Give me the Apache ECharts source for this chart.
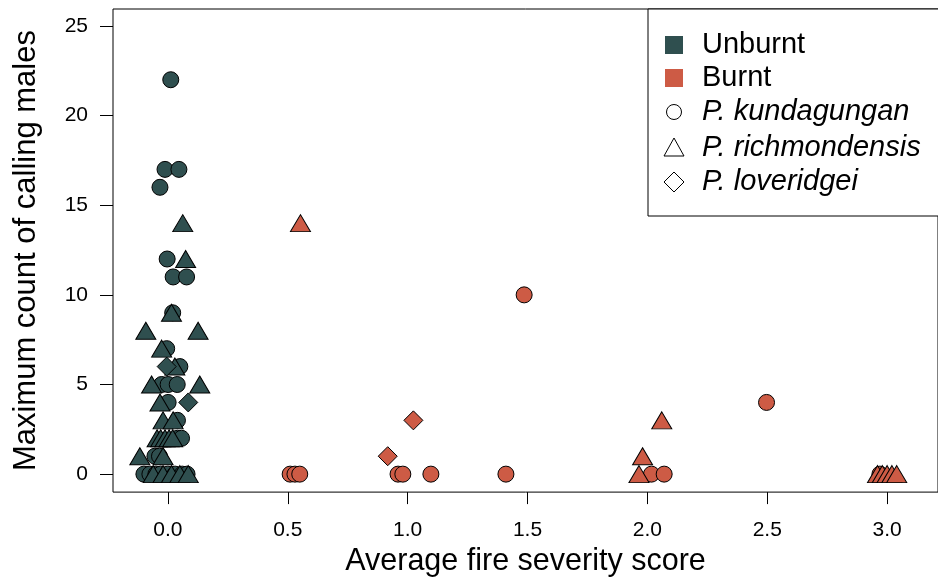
<!DOCTYPE html>
<html>
<head>
	<meta charset="utf-8" />
	<script src="https://cdn.jsdelivr.net/npm/echarts@6.0.0/dist/echarts.min.js"></script>
	<style>
		html, body { margin: 0; padding: 0; background: #fff; }
	</style>
</head>
<body>
	<div id="main" style="width: 938px;height:582px;"></div>

	<script type="text/javascript">
		// data: [fire severity score, max count of calling males]
		var unburntKundagungan = [
			[0.012, 22], [-0.012, 17], [0.046, 17], [-0.033, 16], [-0.003, 12], [0.022, 11], [0.078, 11],
			[0.02, 9], [-0.005, 7], [0.05, 6], [-0.026, 5], [0.001, 5], [0.039, 5], [0.001, 4],
			[0.04, 3], [0.04, 2], [0.057, 2], [-0.054, 1], [-0.035, 1],
			[-0.1, 0], [-0.075, 0], [-0.05, 0], [-0.03, 0], [0.0, 0], [0.03, 0], [0.06, 0], [0.08, 0]
		];
		var unburntRichmondensis = [
			[0.062, 14], [0.074, 12], [0.015, 9], [-0.092, 8], [0.126, 8], [-0.026, 7], [0.029, 6],
			[-0.068, 5], [0.133, 5], [-0.033, 4], [-0.02, 3], [0.022, 3],
			[-0.045, 2], [-0.03, 2], [-0.012, 2], [0.005, 2], [0.02, 2], [-0.117, 1], [-0.02, 1],
			[-0.061, 0], [-0.02, 0], [0.015, 0], [0.05, 0], [0.085, 0]
		];
		var unburntLoveridgei = [[-0.005, 6], [0.085, 4]];

		var burntKundagungan = [
			[0.51, 0], [0.53, 0], [0.55, 0], [0.96, 0], [0.98, 0], [1.097, 0], [1.41, 0], [1.486, 10],
			[2.017, 0], [2.07, 0], [2.497, 4], [2.97, 0]
		];
		var burntRichmondensis = [
			[0.553, 14], [1.965, 0], [1.98, 1], [2.06, 3], [2.96, 0], [2.98, 0], [3.0, 0], [3.02, 0], [3.04, 0]
		];
		var burntLoveridgei = [[0.917, 1], [1.024, 3]];

		var xTicks = [0, 0.5, 1, 1.5, 2, 2.5, 3];
		var yTicks = [0, 5, 10, 15, 20, 25];

		var colUnburnt = '#2F4F4F';
		var colBurnt = '#CD5B45';
		var font = "'Liberation Sans', Arial, Helvetica, sans-serif";

		function pts(name, data, color, symbol, size) {
			return {
				name: name,
				type: 'scatter',
				data: data,
				symbol: symbol,
				symbolSize: size,
				itemStyle: { color: color, borderColor: '#000', borderWidth: 1, opacity: 1 },
				emphasis: { disabled: true },
				silent: true
			};
		}

		var myChart = echarts.init(document.getElementById('main'));

		var option = {
			animation: false,
			textStyle: { fontFamily: font },
			grid: { left: 113, top: 9, width: 827, height: 484, show: true, borderColor: '#000', borderWidth: 1 },
			xAxis: {
				type: 'value',
				min: -0.2289, max: 3.2122,
				name: 'Average fire severity score',
				nameLocation: 'middle',
				nameGap: 53,
				nameTextStyle: { fontSize: 30.5, color: '#000', fontFamily: font },
				axisLine: { show: false, onZero: false },
				splitLine: { show: false },
				axisTick: { show: true, inside: false, length: 12, customValues: xTicks, lineStyle: { color: '#000' } },
				axisLabel: {
					customValues: xTicks, margin: 28, fontSize: 21, color: '#000', fontFamily: font,
					formatter: function (v) { return v.toFixed(1); }
				}
			},
			yAxis: {
				type: 'value',
				min: -1.002, max: 25.946,
				name: 'Maximum count of calling males',
				nameLocation: 'middle',
				nameGap: 71,
				nameTextStyle: { fontSize: 31, color: '#000', fontFamily: font },
				axisLine: { show: false, onZero: false },
				splitLine: { show: false },
				axisTick: { show: true, inside: false, length: 13, customValues: yTicks, lineStyle: { color: '#000' } },
				axisLabel: { customValues: yTicks, margin: 25, fontSize: 21, color: '#000', fontFamily: font }
			},
			series: [
				pts('Unburnt kundagungan', unburntKundagungan, colUnburnt, 'circle', 16),
				pts('Unburnt richmondensis', unburntRichmondensis, colUnburnt, 'triangle', [20, 17]),
				pts('Unburnt loveridgei', unburntLoveridgei, colUnburnt, 'diamond', [19, 19]),
				pts('Burnt kundagungan', burntKundagungan, colBurnt, 'circle', 16),
				pts('Burnt richmondensis', burntRichmondensis, colBurnt, 'triangle', [20, 17]),
				pts('Burnt loveridgei', burntLoveridgei, colBurnt, 'diamond', [19, 19])
			],
			// legend box drawn by hand (filled squares for site type, hollow shapes for species)
			graphic: [
				{ type: 'rect', shape: { x: 648, y: 9, width: 300, height: 207 }, style: { fill: '#fff', stroke: '#000', lineWidth: 1 }, z: 10 },
				{ type: 'rect', shape: { x: 665, y: 36, width: 18, height: 18 }, style: { fill: colUnburnt }, z: 11 },
				{ type: 'rect', shape: { x: 665, y: 69, width: 18, height: 18 }, style: { fill: colBurnt }, z: 11 },
				{ type: 'circle', shape: { cx: 674, cy: 112, r: 7.5 }, style: { fill: 'none', stroke: '#000', lineWidth: 1 }, z: 11 },
				{ type: 'polygon', shape: { points: [[674, 138], [684, 156], [664, 156]] }, style: { fill: 'none', stroke: '#000', lineWidth: 1 }, z: 11 },
				{ type: 'polygon', shape: { points: [[674, 172], [684, 182], [674, 192], [664, 182]] }, style: { fill: 'none', stroke: '#000', lineWidth: 1 }, z: 11 },
				{ type: 'text', x: 702, y: 45, style: { text: 'Unburnt', font: '29px ' + font, fill: '#000', textVerticalAlign: 'middle' }, z: 11 },
				{ type: 'text', x: 702, y: 78, style: { text: 'Burnt', font: '29px ' + font, fill: '#000', textVerticalAlign: 'middle' }, z: 11 },
				{ type: 'text', x: 702, y: 112, style: { text: 'P. kundagungan', font: 'italic 29px ' + font, fill: '#000', textVerticalAlign: 'middle' }, z: 11 },
				{ type: 'text', x: 702, y: 148, style: { text: 'P. richmondensis', font: 'italic 29px ' + font, fill: '#000', textVerticalAlign: 'middle' }, z: 11 },
				{ type: 'text', x: 702, y: 182, style: { text: 'P. loveridgei', font: 'italic 29px ' + font, fill: '#000', textVerticalAlign: 'middle' }, z: 11 }
			]
		};

		myChart.setOption(option);
	</script>
</body>
</html>
